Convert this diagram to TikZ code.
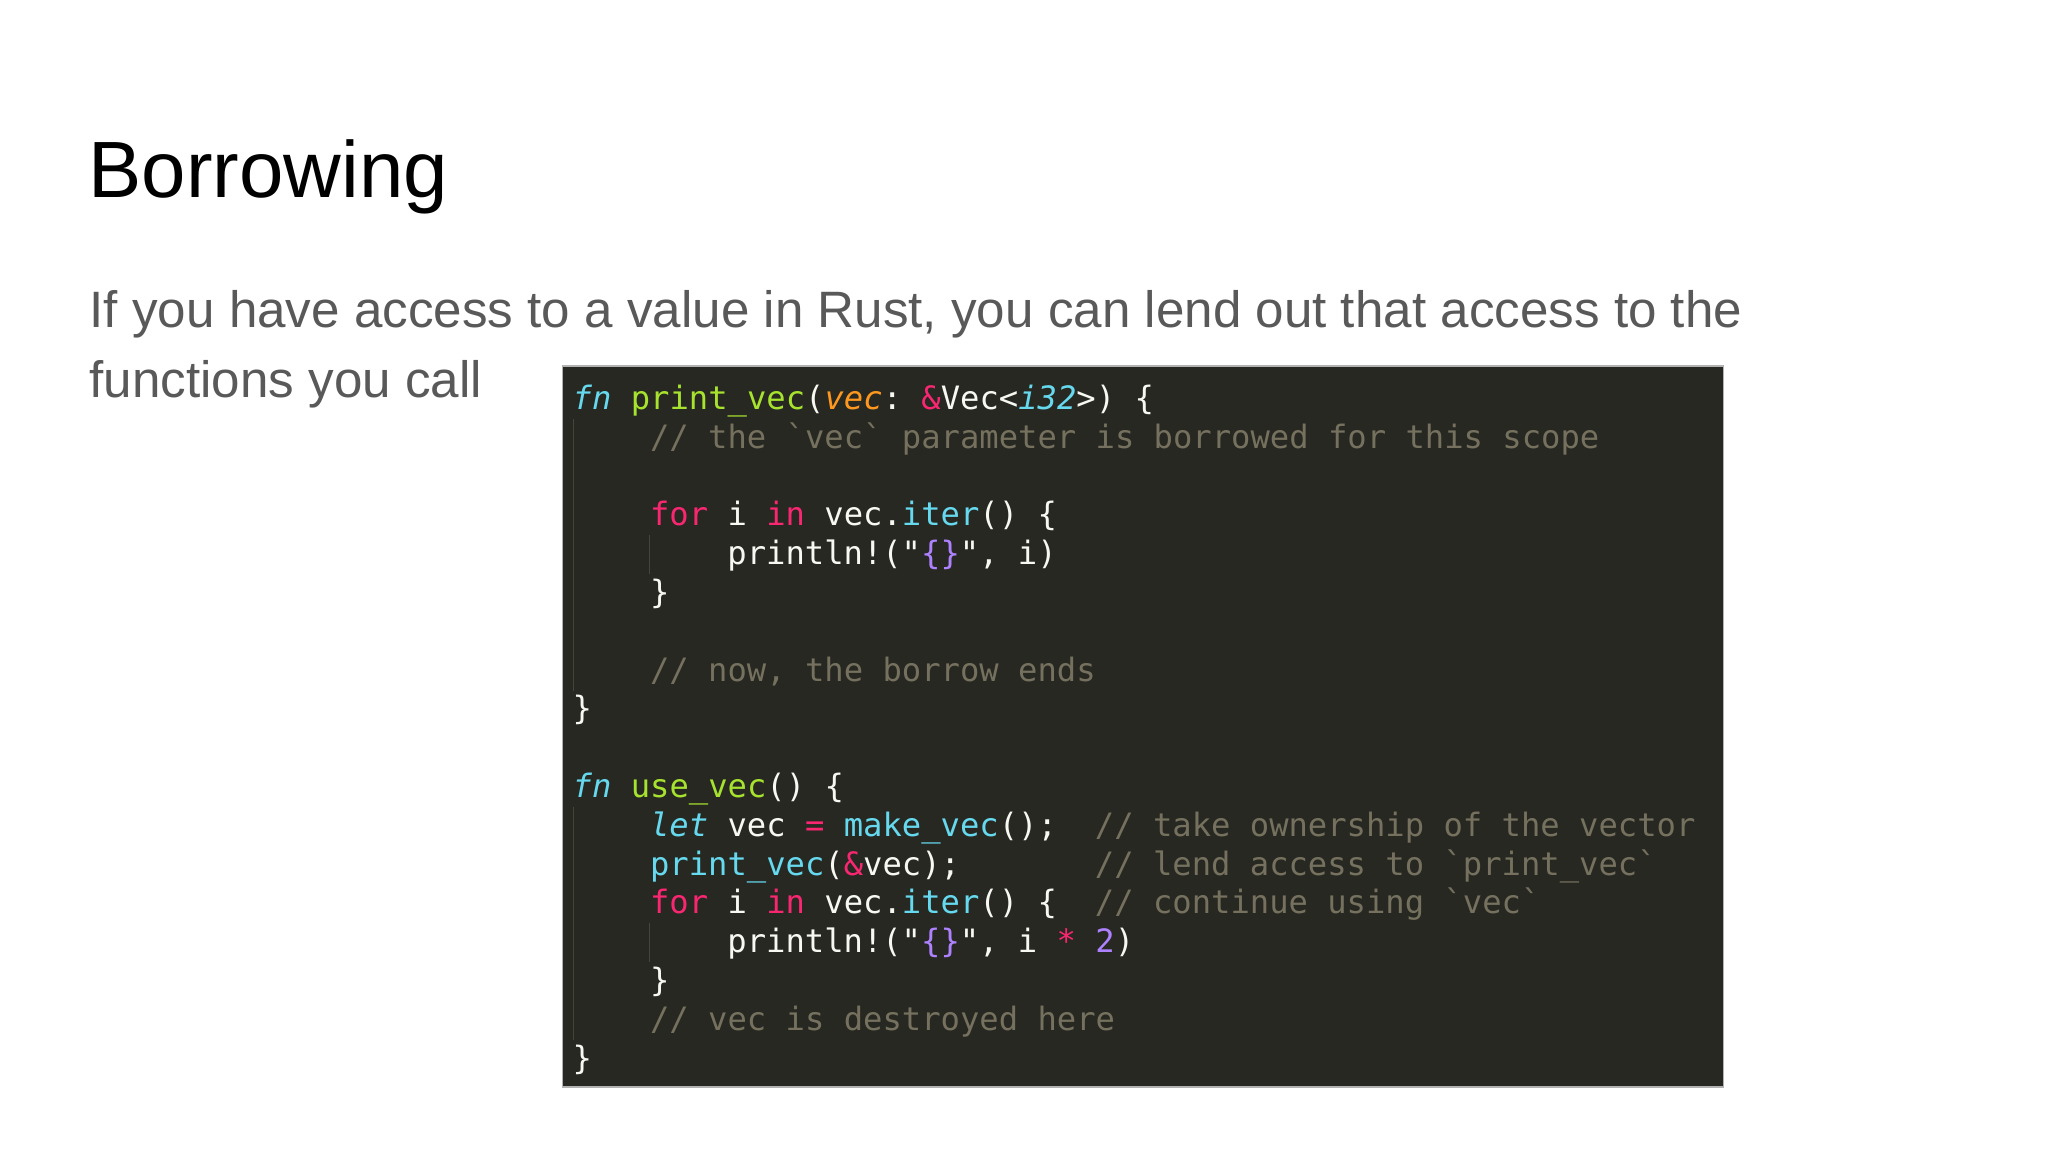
\documentclass[tikz,border=0pt]{standalone}
\usepackage{fontspec}
\usepackage{xcolor}
\setmainfont{Liberation Sans}
\newfontfamily\codefont{DejaVu Sans Mono}
\usepackage{tikz}
\usetikzlibrary{positioning}

\definecolor{codebg}{HTML}{272822}
\definecolor{codefg}{HTML}{F8F8F2}
\definecolor{kwblue}{HTML}{66D9EF}
\definecolor{kwpink}{HTML}{F92672}
\definecolor{fngreen}{HTML}{A6E22E}
\definecolor{argorange}{HTML}{FD971F}
\definecolor{numpurple}{HTML}{AE81FF}
\definecolor{cmtgray}{HTML}{75715E}
\definecolor{bodygray}{HTML}{595959}
\definecolor{guidegray}{HTML}{45443D}

\newcommand{\kw}[1]{\textcolor{kwblue}{\itshape #1}}
\newcommand{\pk}[1]{\textcolor{kwpink}{#1}}
\newcommand{\fnn}[1]{\textcolor{fngreen}{#1}}
\newcommand{\cl}[1]{\textcolor{kwblue}{#1}}
\newcommand{\argv}[1]{\textcolor{argorange}{\itshape #1}}
\newcommand{\nm}[1]{\textcolor{numpurple}{#1}}
\newcommand{\bq}{\char96\relax}
\newcommand{\dq}{\char34\relax}
\newcommand{\us}{\char95\relax}

\begin{document}
\begin{tikzpicture}[x=0.01cm,y=-0.01cm,
  code/.style={anchor=base west,inner sep=0pt,text=codefg,
    font=\codefont\fontsize{9.15pt}{11pt}\selectfont\frenchspacing},
  cmt/.style={code,text=cmtgray},
  guide line/.style={draw=guidegray,line width=0.01cm}]
\path[use as bounding box,fill=white] (0,0) rectangle (2048,1152);

\node [anchor=base west,inner sep=0pt,font=\fontsize{22.7pt}{27pt}\selectfont] (title) at (88,198) {Borrowing};
\node [anchor=base west,inner sep=0pt,text=bodygray,font=\fontsize{14.55pt}{18pt}\selectfont] (body1) at (89,328)
  {If you have access to a value in Rust, you can lend out that access to the};
\node [anchor=base west,inner sep=0pt,text=bodygray,font=\fontsize{14.55pt}{18pt}\selectfont] (body2) at (89,398)
  {functions you call};

% code panel
\node [fill=codebg,draw=gray!60,line width=0.015cm,minimum width=11.6cm,minimum height=7.21cm,inner sep=0pt] (box) at (1143,726.5) {};
\draw[guide line] (573,419) -- (573,691);
\draw[guide line] (649,535) -- (649,574);
\draw[guide line] (573,807) -- (573,1040);
\draw[guide line] (649,923) -- (649,962);

\node [code] (l1) at (572,409.5) {\kw{fn} \fnn{print\us vec}(\argv{vec}: \pk{\&}Vec<\kw{i32}>) \{};
\node [cmt] (l2) at (649.4,448.3) {// the \bq vec\bq{} parameter is borrowed for this scope};
\node [code] (l4) at (649.4,525.9) {\pk{for} i \pk{in} vec.\cl{iter}() \{};
\node [code] (l5) at (726.7,564.7) {println!(\dq\nm{\{\}}\dq, i)};
\node [code] (l6) at (649.4,603.5) {\}};
\node [cmt] (l8) at (649.4,681.1) {// now, the borrow ends};
\node [code] (l9) at (572,719.9) {\}};

\node [code] (l11) at (572,797.5) {\kw{fn} \fnn{use\us vec}() \{};
\node [code] (l12) at (649.4,836.3) {\kw{let} vec \pk{=} \cl{make\us vec}();};
\node [cmt] (c12) at (1094.2,836.3) {// take ownership of the vector};
\node [code] (l13) at (649.4,875.1) {\cl{print\us vec}(\pk{\&}vec);};
\node [cmt] (c13) at (1094.2,875.1) {// lend access to \bq print\us vec\bq};
\node [code] (l14) at (649.4,913.9) {\pk{for} i \pk{in} vec.\cl{iter}() \{};
\node [cmt] (c14) at (1094.2,913.9) {// continue using \bq vec\bq};
\node [code] (l15) at (726.7,952.7) {println!(\dq\nm{\{\}}\dq, i \pk{*} \nm{2})};
\node [code] (l16) at (649.4,991.5) {\}};
\node [cmt] (l17) at (649.4,1030.3) {// vec is destroyed here};
\node [code] (l18) at (572,1069.1) {\}};

\end{tikzpicture}
\end{document}
